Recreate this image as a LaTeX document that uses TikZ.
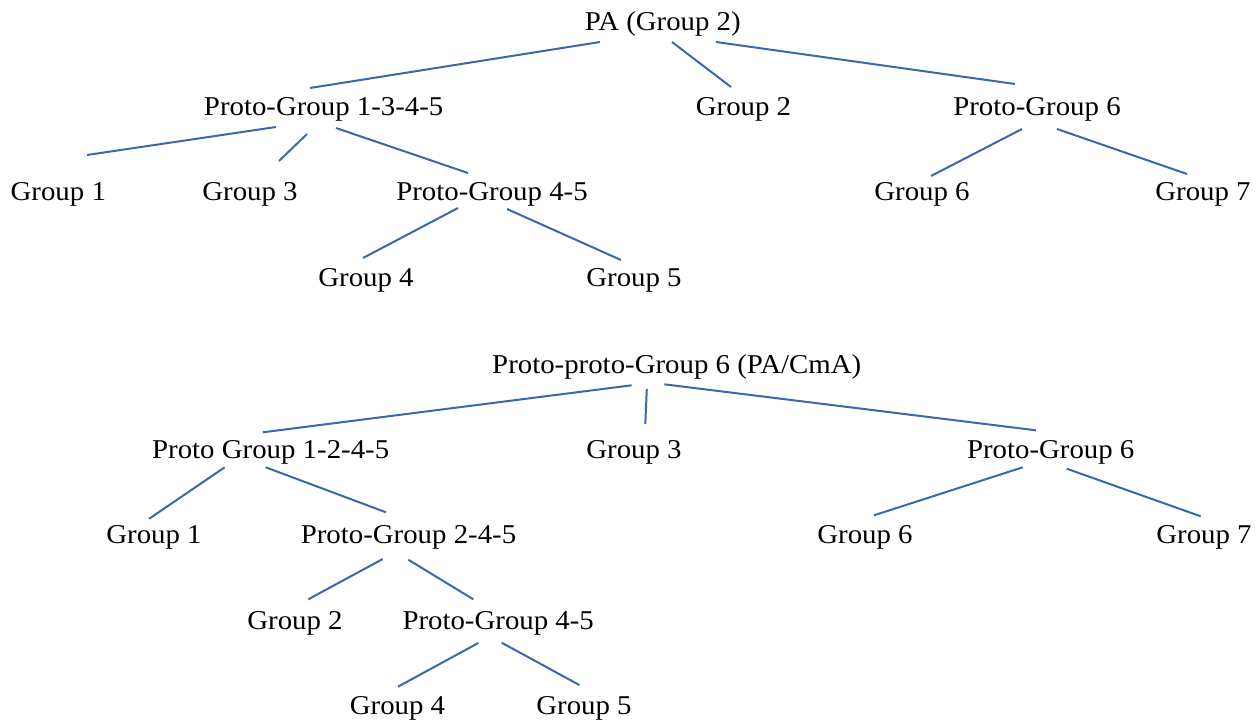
\documentclass[tikz,border=0pt]{standalone}
\usepackage{fontspec}
\setmainfont[FakeStretch=1.06]{Liberation Serif}
\definecolor{edgeblue}{HTML}{3A68AE}
\begin{document}
\begin{tikzpicture}[x=0.75pt,y=-0.75pt,
  lbl/.style={anchor=base,inner sep=0pt,font=\fontsize{20.4}{24}\selectfont},
  edge/.style={draw=edgeblue,line width=1.5pt}]
\useasboundingbox[fill=white] (0,0) rectangle (1260,725);

% ---- upper tree ----
\node[lbl] (pa)     at (662.8,30.5)  {PA (Group 2)};
\node[lbl] (pg1345) at (323.7,115.7) {Proto-Group 1-3-4-5};
\node[lbl] (g2t)    at (743.5,115.7) {Group 2};
\node[lbl] (pg6t)   at (1037,115.7)  {Proto-Group 6};
\node[lbl] (g1t)    at (58.3,200.7)  {Group 1};
\node[lbl] (g3t)    at (250,200.7)   {Group 3};
\node[lbl] (pg45t)  at (492,200.7)   {Proto-Group 4-5};
\node[lbl] (g6t)    at (922,200.7)   {Group 6};
\node[lbl] (g7t)    at (1203,200.7)  {Group 7};
\node[lbl] (g4t)    at (366,286)     {Group 4};
\node[lbl] (g5t)    at (634,286)     {Group 5};

\draw[edge] ([shift={(-62.8,11.5)}]pa.base) -- ([shift={(-13.7,-27.7)}]pg1345.base);
\draw[edge] ([shift={(9.2,11.5)}]pa.base) -- ([shift={(-12.5,-28.7)}]g2t.base);
\draw[edge] ([shift={(53.2,11.5)}]pa.base) -- ([shift={(-22,-31.7)}]pg6t.base);
\draw[edge] ([shift={(-47.7,11.3)}]pg1345.base) -- ([shift={(28.7,-45.7)}]g1t.base);
\draw[edge] ([shift={(-16.7,18.3)}]pg1345.base) -- ([shift={(29,-39.7)}]g3t.base);
\draw[edge] ([shift={(12.3,12.3)}]pg1345.base) -- ([shift={(-24,-27.7)}]pg45t.base);
\draw[edge] ([shift={(-15,13.3)}]pg6t.base) -- ([shift={(9,-24.7)}]g6t.base);
\draw[edge] ([shift={(20,13.3)}]pg6t.base) -- ([shift={(-16,-26.7)}]g7t.base);
\draw[edge] ([shift={(-34,7.3)}]pg45t.base) -- ([shift={(-3,-28)}]g4t.base);
\draw[edge] ([shift={(15,8.3)}]pg45t.base) -- ([shift={(-13,-26)}]g5t.base);

% ---- lower tree ----
\node[lbl] (ppg6)   at (676.7,373.3) {Proto-proto-Group 6 (PA/CmA)};
\node[lbl] (pg1245) at (270.7,458.5) {Proto Group 1-2-4-5};
\node[lbl] (g3b)    at (634,458.5)   {Group 3};
\node[lbl] (pg6b)   at (1050.7,458.5){Proto-Group 6};
\node[lbl] (g1b)    at (154,543.8)   {Group 1};
\node[lbl] (pg245)  at (408.5,543.8) {Proto-Group 2-4-5};
\node[lbl] (g6b)    at (865,543.8)   {Group 6};
\node[lbl] (g7b)    at (1204,543.8)  {Group 7};
\node[lbl] (g2b)    at (295,629)     {Group 2};
\node[lbl] (pg45b)  at (498.2,629)   {Proto-Group 4-5};
\node[lbl] (g4b)    at (397.5,714.3) {Group 4};
\node[lbl] (g5b)    at (584,714.3)   {Group 5};

\draw[edge] ([shift={(-45.1,12)}]ppg6.base) -- ([shift={(-7.9,-26.2)}]pg1245.base);
\draw[edge] ([shift={(-29.9,15.7)}]ppg6.base) -- ([shift={(11.3,-34.5)}]g3b.base);
\draw[edge] ([shift={(-12.4,11)}]ppg6.base) -- ([shift={(-14.7,-28.2)}]pg6b.base);
\draw[edge] ([shift={(-46,8.8)}]pg1245.base) -- ([shift={(-4.8,-25.1)}]g1b.base);
\draw[edge] ([shift={(-5,8.8)}]pg1245.base) -- ([shift={(-22.5,-31.5)}]pg245.base);
\draw[edge] ([shift={(-28,8.8)}]pg6b.base) -- ([shift={(9,-28.5)}]g6b.base);
\draw[edge] ([shift={(16,10.2)}]pg6b.base) -- ([shift={(-3.3,-27.5)}]g7b.base);
\draw[edge] ([shift={(-25.8,15.2)}]pg245.base) -- ([shift={(13.3,-29.7)}]g2b.base);
\draw[edge] ([shift={(-0.2,15.9)}]pg245.base) -- ([shift={(-24.9,-29.7)}]pg45b.base);
\draw[edge] ([shift={(-19.9,14)}]pg45b.base) -- ([shift={(0.5,-27.6)}]g4b.base);
\draw[edge] ([shift={(3.5,13.7)}]pg45b.base) -- ([shift={(-4.7,-29.3)}]g5b.base);
\end{tikzpicture}
\end{document}
